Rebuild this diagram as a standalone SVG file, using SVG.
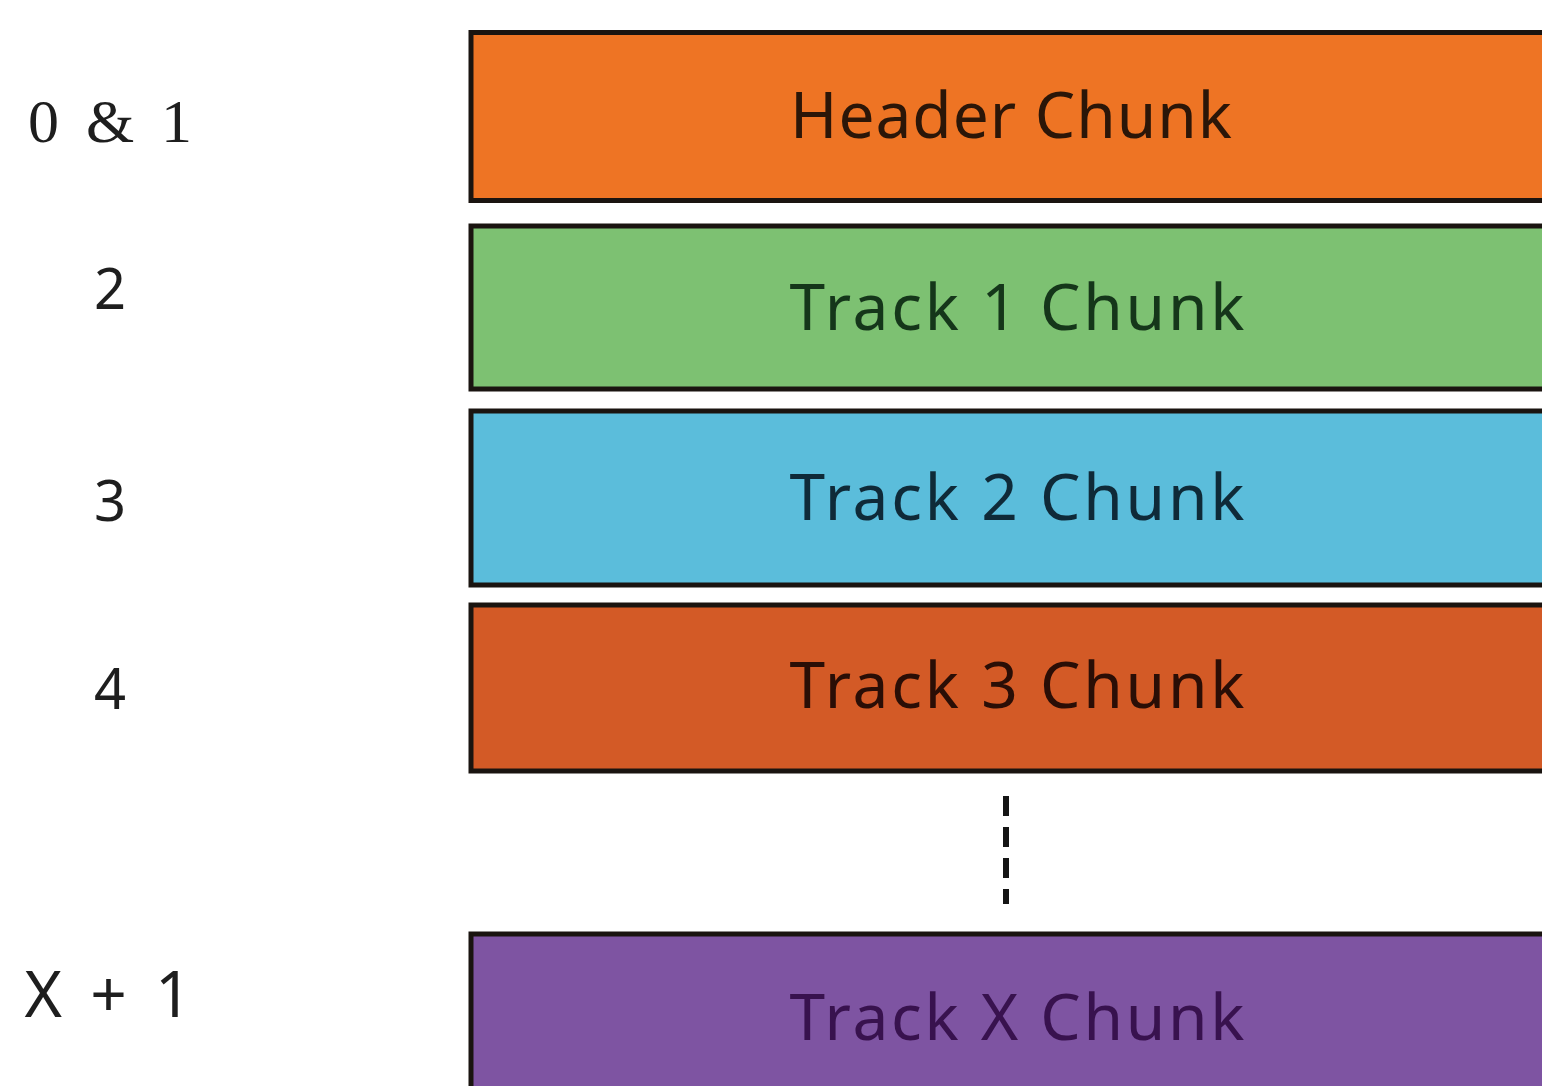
<svg xmlns="http://www.w3.org/2000/svg" width="1542" height="1086" viewBox="0 0 1542 1086">
<style>
.box{stroke:#1a1410;stroke-width:5}
.lbl{font-family:"Noto Sans","DejaVu Sans",sans-serif;font-size:64px;text-anchor:middle}
.num{font-family:"Noto Sans","DejaVu Sans",sans-serif;font-size:56px;fill:#1e1e1e;text-anchor:middle}
.big{font-size:64px}
.numS{font-family:"Liberation Serif","DejaVu Serif",serif;font-size:62px;fill:#1e1e1e;text-anchor:middle}
</style>
<rect width="1542" height="1086" fill="#ffffff"/>
<g id="label-0-1"><text class="numS" x="110" y="142" textLength="164" lengthAdjust="spacing">0 &amp; 1</text></g>
<g id="label-2"><text class="num" x="110" y="309">2</text></g>
<g id="label-3"><text class="num" x="110" y="521">3</text></g>
<g id="label-4"><text class="num" x="110" y="709">4</text></g>
<g id="label-x1"><text class="num big" x="108" y="1017" textLength="167" lengthAdjust="spacing">X + 1</text></g>
<g id="header-chunk">
<rect class="box" x="471" y="32.5" width="1100" height="168" fill="#ee7424"/>
<text class="lbl" x="1011" y="138" fill="#2b1608" textLength="442" lengthAdjust="spacing">Header Chunk</text>
</g>
<g id="track1-chunk">
<rect class="box" x="471" y="226" width="1100" height="163" fill="#7dc172"/>
<text class="lbl" x="1017" y="330" fill="#15361a" textLength="455" lengthAdjust="spacing">Track 1 Chunk</text>
</g>
<g id="track2-chunk">
<rect class="box" x="471" y="411" width="1100" height="174" fill="#5bbddb"/>
<text class="lbl" x="1017" y="520" fill="#0f2a38" textLength="455" lengthAdjust="spacing">Track 2 Chunk</text>
</g>
<g id="track3-chunk">
<rect class="box" x="471" y="605" width="1100" height="166" fill="#d35a26"/>
<text class="lbl" x="1017" y="708" fill="#2a0e06" textLength="455" lengthAdjust="spacing">Track 3 Chunk</text>
</g>
<g id="trackx-chunk">
<rect class="box" x="471" y="934" width="1100" height="200" fill="#7e54a2"/>
<text class="lbl" x="1017" y="1040" fill="#38124e" textLength="455" lengthAdjust="spacing">Track X Chunk</text>
</g>
<g id="connectors">
<line x1="1006" y1="796" x2="1006" y2="904" stroke="#151515" stroke-width="6" stroke-dasharray="20 11"/>
</g>
</svg>
